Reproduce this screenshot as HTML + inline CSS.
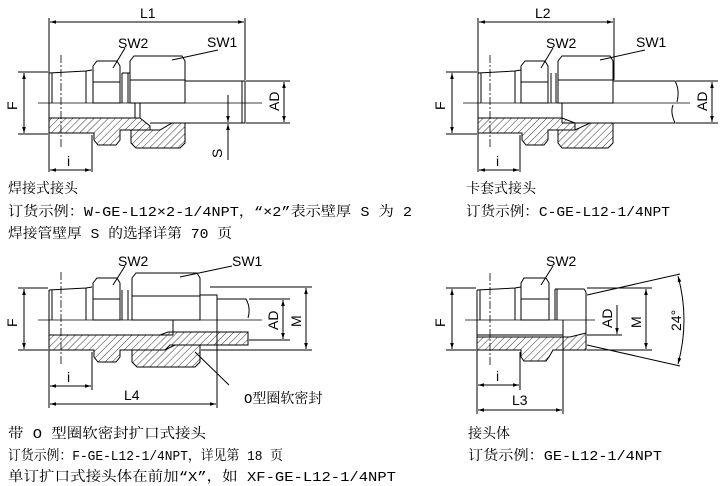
<!DOCTYPE html>
<html><head><meta charset="utf-8"><style>
body{margin:0;background:#fff}
svg{display:block}
text{font-family:"Liberation Sans","DejaVu Sans",sans-serif;font-size:14px;fill:#000}
.cn{font-family:"Liberation Mono","Noto Serif CJK SC",monospace;font-size:14px}
</style></head><body>
<svg width="720" height="486" viewBox="0 0 720 486" xmlns="http://www.w3.org/2000/svg">
<defs>
<pattern id="h" patternUnits="userSpaceOnUse" width="5" height="5" patternTransform="rotate(45)">
<line x1="0" y1="0" x2="0" y2="5" stroke="#000" stroke-width="0.8"/></pattern>
<marker id="a" viewBox="0 0 10 10" refX="10" refY="5" markerWidth="8" markerHeight="6" orient="auto-start-reverse"><path d="M0,2 L10,5 L0,8z" fill="#000"/></marker>
</defs>
<g fill="none" stroke="#000" stroke-width="1">

<!-- ===== Diagram 1 ===== -->
<line x1="49" y1="18" x2="49" y2="172"/><line x1="245" y1="18" x2="245" y2="80"/>
<line x1="50" y1="22" x2="244" y2="22" marker-start="url(#a)" marker-end="url(#a)"/>
<line x1="38" y1="103" x2="262" y2="103" stroke-width="0.8"/>
<line x1="61" y1="55" x2="61" y2="148" stroke-dasharray="8,2,2,2" stroke-width="0.8"/>
<path d="M49,73 L86,71 L92,70 M49,73 L49,133 M86,71 L86,103 M52,73 L52,103" />
<path d="M97,61 L117,61 L120,66 L120,103 L93,103 L93,66Z M93,82 L120,82"/>
<path d="M122,73 L122,103 M128,73 L128,103 M122,73 L130,73"/>
<path d="M134,56 L182,56 L185,61 L185,103 L130,103 L130,61Z M130,80 L185,80"/>
<path d="M185,81 L245,81 L245,123 L150,123 M242,81 L242,123"/>
<path d="M49,118 L140,118 M135,103 L135,118 M140,103 L140,118"/>
<path fill="url(#h)" d="M49,118 L140,118 L150,126 L150,130 L120,130 L120,140 L116,145 L98,145 L94,140 L94,133 L49,133Z"/>
<path fill="url(#h)" d="M131,130 L160,130 L172,123 L185,123 L185,143 L180,148 L136,148 L131,143Z"/>
<line x1="18" y1="72" x2="48" y2="72"/><line x1="18" y1="134" x2="48" y2="134"/>
<line x1="24" y1="73" x2="24" y2="133" marker-start="url(#a)" marker-end="url(#a)"/>
<line x1="246" y1="81" x2="290" y2="81"/><line x1="246" y1="123" x2="290" y2="123"/>
<line x1="284" y1="82" x2="284" y2="122" marker-start="url(#a)" marker-end="url(#a)"/>
<line x1="228" y1="95" x2="228" y2="122" marker-end="url(#a)"/>
<line x1="228" y1="160" x2="228" y2="124" marker-end="url(#a)"/>
<line x1="92" y1="135" x2="92" y2="172"/>
<line x1="50" y1="170" x2="91" y2="170" marker-start="url(#a)" marker-end="url(#a)"/>
<line x1="113" y1="68" x2="125" y2="48"/><line x1="172" y1="60" x2="218" y2="50"/>

<!-- ===== Diagram 3 ===== -->
<line x1="478" y1="18" x2="478" y2="172"/><line x1="614" y1="18" x2="614" y2="80"/>
<line x1="479" y1="22" x2="613" y2="22" marker-start="url(#a)" marker-end="url(#a)"/>
<line x1="463" y1="103" x2="690" y2="103" stroke-width="0.8"/>
<line x1="490" y1="55" x2="490" y2="148" stroke-dasharray="8,2,2,2" stroke-width="0.8"/>
<path d="M478,73 L515,71 L521,70 M478,73 L478,133 M515,71 L515,103 M481,73 L481,103"/>
<path d="M525,61 L545,61 L548,66 L548,103 L521,103 L521,66Z M521,82 L548,82"/>
<path d="M551,73 L551,103 M556,73 L556,103"/>
<path d="M562,56 L610,56 L613,61 L613,103 L558,103 L558,61Z M558,80 L613,80"/>
<path d="M613,81 L675,81 Q680,90 677,102 M562,123 L675,123 Q670,112 673,105"/>
<path d="M478,118 L562,118 M562,103 L562,123"/>
<path fill="url(#h)" d="M478,118 L562,118 L575,123 L575,130 L548,130 L548,140 L544,145 L526,145 L522,140 L522,133 L478,133Z"/>
<path fill="url(#h)" d="M558,130 L575,130 L590,123 L613,123 L613,143 L608,148 L562,148 L558,143Z"/>
<line x1="446" y1="72" x2="477" y2="72"/><line x1="446" y1="134" x2="477" y2="134"/>
<line x1="452" y1="73" x2="452" y2="133" marker-start="url(#a)" marker-end="url(#a)"/>
<line x1="676" y1="81" x2="718" y2="81"/><line x1="676" y1="123" x2="718" y2="123"/>
<line x1="712" y1="82" x2="712" y2="122" marker-start="url(#a)" marker-end="url(#a)"/>
<line x1="520" y1="135" x2="520" y2="172"/>
<line x1="479" y1="170" x2="519" y2="170" marker-start="url(#a)" marker-end="url(#a)"/>
<line x1="541" y1="68" x2="553" y2="48"/><line x1="600" y1="60" x2="645" y2="50"/>

<!-- ===== Diagram 2 ===== -->
<line x1="49" y1="330" x2="49" y2="408"/><line x1="217" y1="320" x2="217" y2="408"/>
<line x1="38" y1="320" x2="262" y2="320" stroke-width="0.8"/>
<line x1="61" y1="272" x2="61" y2="365" stroke-dasharray="8,2,2,2" stroke-width="0.8"/>
<path d="M49,290 L86,288 L92,287 M49,290 L49,350 M86,288 L86,320 M52,290 L52,320"/>
<path d="M97,278 L117,278 L120,283 L120,320 L93,320 L93,283Z M93,299 L120,299"/>
<path d="M122,290 L122,320 M128,290 L128,320"/>
<path d="M136,273 L197,273 L200,278 L200,320 L132,320 L132,278Z M132,296 L200,296"/>
<path d="M200,295 L217,295 L217,320 M217,299 L246,299 Q251,308 248,318 M173,320 L173,335 M49,335 L173,335"/>
<path fill="url(#h)" d="M49,335 L160,335 L168,332 L248,332 L248,345 L170,345 L165,350 L120,350 L120,357 L116,362 L98,362 L94,357 L94,350 L49,350Z"/>
<path fill="url(#h)" d="M132,350 L165,350 L175,345 L200,345 L200,362 L195,367 L137,367 L132,362Z"/>
<line x1="18" y1="288" x2="48" y2="288"/><line x1="18" y1="350" x2="48" y2="350"/>
<line x1="24" y1="289" x2="24" y2="349" marker-start="url(#a)" marker-end="url(#a)"/>
<line x1="249" y1="299" x2="290" y2="299"/><line x1="249" y1="340" x2="290" y2="340"/>
<line x1="283" y1="300" x2="283" y2="339" marker-start="url(#a)" marker-end="url(#a)"/>
<line x1="210" y1="287" x2="312" y2="287"/><line x1="201" y1="350" x2="312" y2="350"/>
<line x1="306" y1="288" x2="306" y2="349" marker-start="url(#a)" marker-end="url(#a)"/>
<line x1="92" y1="352" x2="92" y2="390"/>
<line x1="50" y1="386" x2="91" y2="386" marker-start="url(#a)" marker-end="url(#a)"/>
<line x1="50" y1="404" x2="216" y2="404" marker-start="url(#a)" marker-end="url(#a)"/>
<line x1="195" y1="352" x2="229" y2="385"/>
<line x1="113" y1="285" x2="125" y2="266"/><line x1="180" y1="277" x2="232" y2="266"/>

<!-- ===== Diagram 4 ===== -->
<line x1="477" y1="350" x2="477" y2="414"/><line x1="563" y1="320" x2="563" y2="414"/>
<line x1="465" y1="320" x2="595" y2="320" stroke-width="0.8"/>
<line x1="490" y1="273" x2="490" y2="367" stroke-dasharray="8,2,2,2" stroke-width="0.8"/>
<path d="M477,290 L515,288 L521,287 M477,290 L477,350 M515,288 L515,320 M480,290 L480,320"/>
<path d="M524,278 L546,278 L549,283 L549,320 L521,320 L521,283Z M521,299 L549,299"/>
<path d="M555,289 L584,289 L586,292 L586,335 M557,289 L557,320 M555,289 L555,320 M563,320 L563,335 M477,335 L563,335"/>
<path fill="url(#h)" d="M477,337 L570,337 L586,333 L586,350 L553,350 L549,357 L546,361 L524,361 L521,357 L521,350 L477,350Z"/>
<line x1="446" y1="288" x2="476" y2="288"/><line x1="446" y1="350" x2="476" y2="350"/>
<line x1="452" y1="289" x2="452" y2="349" marker-start="url(#a)" marker-end="url(#a)"/>
<line x1="587" y1="335" x2="622" y2="335"/>
<line x1="617" y1="305" x2="617" y2="334" marker-end="url(#a)"/>
<line x1="587" y1="288" x2="652" y2="288"/><line x1="587" y1="350" x2="652" y2="350"/>
<line x1="646" y1="289" x2="646" y2="349" marker-start="url(#a)" marker-end="url(#a)"/>
<line x1="587" y1="295" x2="680" y2="274"/><line x1="587" y1="345" x2="680" y2="366"/>
<path d="M678,276 Q690,320 678,364" marker-start="url(#a)" marker-end="url(#a)"/>
<line x1="520" y1="352" x2="520" y2="390"/>
<line x1="478" y1="385" x2="519" y2="385" marker-start="url(#a)" marker-end="url(#a)"/>
<line x1="478" y1="410" x2="562" y2="410" marker-start="url(#a)" marker-end="url(#a)"/>
<line x1="541" y1="285" x2="553" y2="266"/>
</g>

<!-- labels -->
<text x="140" y="18">L1</text><text x="118" y="48">SW2</text><text x="207" y="47">SW1</text>
<text transform="translate(17,110) rotate(-90)">F</text>
<text transform="translate(279,111) rotate(-90)">AD</text>
<text transform="translate(222,158) rotate(-90)">S</text>
<text x="67" y="166">i</text>

<text x="535" y="18">L2</text><text x="546" y="48">SW2</text><text x="636" y="47">SW1</text>
<text transform="translate(445,110) rotate(-90)">F</text>
<text transform="translate(707,111) rotate(-90)">AD</text>
<text x="496" y="166">i</text>

<text x="118" y="266">SW2</text><text x="232" y="266">SW1</text>
<text transform="translate(17,327) rotate(-90)">F</text>
<text transform="translate(278,330) rotate(-90)">AD</text>
<text transform="translate(301,327) rotate(-90)">M</text>
<text x="67" y="382">i</text><text x="124" y="400">L4</text>
<text x="244" y="403" class="cn">O型圈软密封</text>

<text x="546" y="266">SW2</text>
<text transform="translate(445,327) rotate(-90)">F</text>
<text transform="translate(612,328) rotate(-90)">AD</text>
<text transform="translate(641,328) rotate(-90)">M</text>
<text transform="translate(681,331) rotate(-90)">24°</text>
<text x="496" y="381">i</text><text x="512" y="405">L3</text>

<text x="8" y="193" class="cn">焊接式接头</text>
<text x="8" y="216" class="cn" textLength="404" lengthAdjust="spacingAndGlyphs">订货示例：W-GE-L12×2-1/4NPT，“×2”表示壁厚 S 为 2</text>
<text x="8" y="238" class="cn" textLength="224" lengthAdjust="spacingAndGlyphs">焊接管壁厚 S 的选择详第 70 页</text>
<text x="466" y="193" class="cn">卡套式接头</text>
<text x="466" y="216" class="cn" textLength="204" lengthAdjust="spacingAndGlyphs">订货示例：C-GE-L12-1/4NPT</text>
<text x="8" y="438" class="cn" textLength="198" lengthAdjust="spacingAndGlyphs">带 O 型圈软密封扩口式接头</text>
<text x="8" y="460" class="cn" textLength="275" lengthAdjust="spacingAndGlyphs">订货示例：F-GE-L12-1/4NPT，详见第 18 页</text>
<text x="8" y="481" class="cn" textLength="388" lengthAdjust="spacingAndGlyphs">单订扩口式接头体在前加“X”，如 XF-GE-L12-1/4NPT</text>
<text x="468" y="438" class="cn">接头体</text>
<text x="468" y="460" class="cn" textLength="194" lengthAdjust="spacingAndGlyphs">订货示例：GE-L12-1/4NPT</text>
</svg>
</body></html>
